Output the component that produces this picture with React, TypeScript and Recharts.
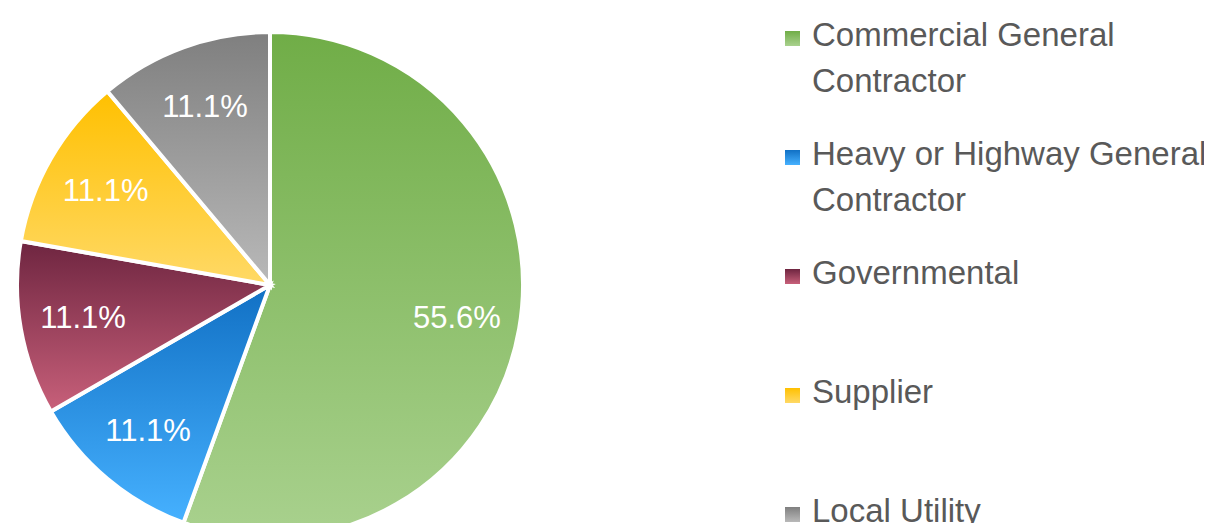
import { PieChart, Pie, Cell, Legend } from "recharts";

// Share of respondents by organisation type
const categories = [
  "Commercial General Contractor",
  "Heavy or Highway General Contractor",
  "Governmental",
  "Supplier",
  "Local Utility",
];
const counts = [5, 1, 1, 1, 1];

// gradient stops per slice (top -> bottom)
const topColors = ["#70AD47", "#1170C4", "#6E2540", "#FFC000", "#7F7F7F"];
const bottomColors = ["#A9D18E", "#46B1FF", "#C8607A", "#FFD966", "#B9B9B9"];

const data = categories.map((name, i) => ({ name, value: counts[i] }));

const RADIAN = Math.PI / 180;
const FONT = '"Liberation Sans", Arial, sans-serif';

const renderLabel = (props: any) => {
  const { cx, cy, midAngle, outerRadius, percent } = props;
  const r = outerRadius * 0.75;
  const x = cx + r * Math.cos(-midAngle * RADIAN);
  const y = cy + r * Math.sin(-midAngle * RADIAN);
  return (
    <text
      x={x}
      y={y}
      fill="#ffffff"
      textAnchor="middle"
      dominantBaseline="central"
      fontSize={31}
      fontFamily={FONT}
    >
      {(percent * 100).toFixed(1)}%
    </text>
  );
};

const renderLegend = () => (
  <div style={{ position: "relative", width: 427, height: 531, fontFamily: FONT }}>
    {categories.map((name, i) => (
      <div
        key={name}
        style={{
          position: "absolute",
          left: 0,
          top: 12 + i * 119,
          width: 427,
        }}
      >
        <span
          style={{
            position: "absolute",
            left: 0,
            top: 19,
            width: 15,
            height: 15,
            background: `linear-gradient(${topColors[i]}, ${bottomColors[i]})`,
          }}
        />
        <div
          style={{
            marginLeft: 27,
            width: 400,
            fontSize: 33,
            lineHeight: "46px",
            color: "#595959",
          }}
        >
          {name}
        </div>
      </div>
    ))}
  </div>
);

const App = () => {
  return (
    <div style={{ margin: -8 }}>
      <PieChart width={1212} height={531} margin={{ top: 0, right: 0, bottom: 0, left: 0 }}>
        <defs>
          {categories.map((name, i) => (
            <linearGradient key={name} id={`slice${i}`} x1="0" y1="0" x2="0" y2="1">
              <stop offset="0%" stopColor={topColors[i]} />
              <stop offset="100%" stopColor={bottomColors[i]} />
            </linearGradient>
          ))}
        </defs>
        <Pie
          data={data}
          dataKey="value"
          nameKey="name"
          cx={270}
          cy={285}
          outerRadius={253}
          startAngle={90}
          endAngle={-270}
          stroke="#ffffff"
          strokeWidth={4}
          label={renderLabel}
          labelLine={false}
          isAnimationActive={false}
        >
          {data.map((d, i) => (
            <Cell key={d.name} fill={`url(#slice${i})`} />
          ))}
        </Pie>
        <Legend
          layout="vertical"
          align="right"
          verticalAlign="middle"
          content={renderLegend}
          wrapperStyle={{ position: "absolute", left: 785, top: 0, width: 427, height: 531 }}
        />
      </PieChart>
    </div>
  );
};

export default App;
